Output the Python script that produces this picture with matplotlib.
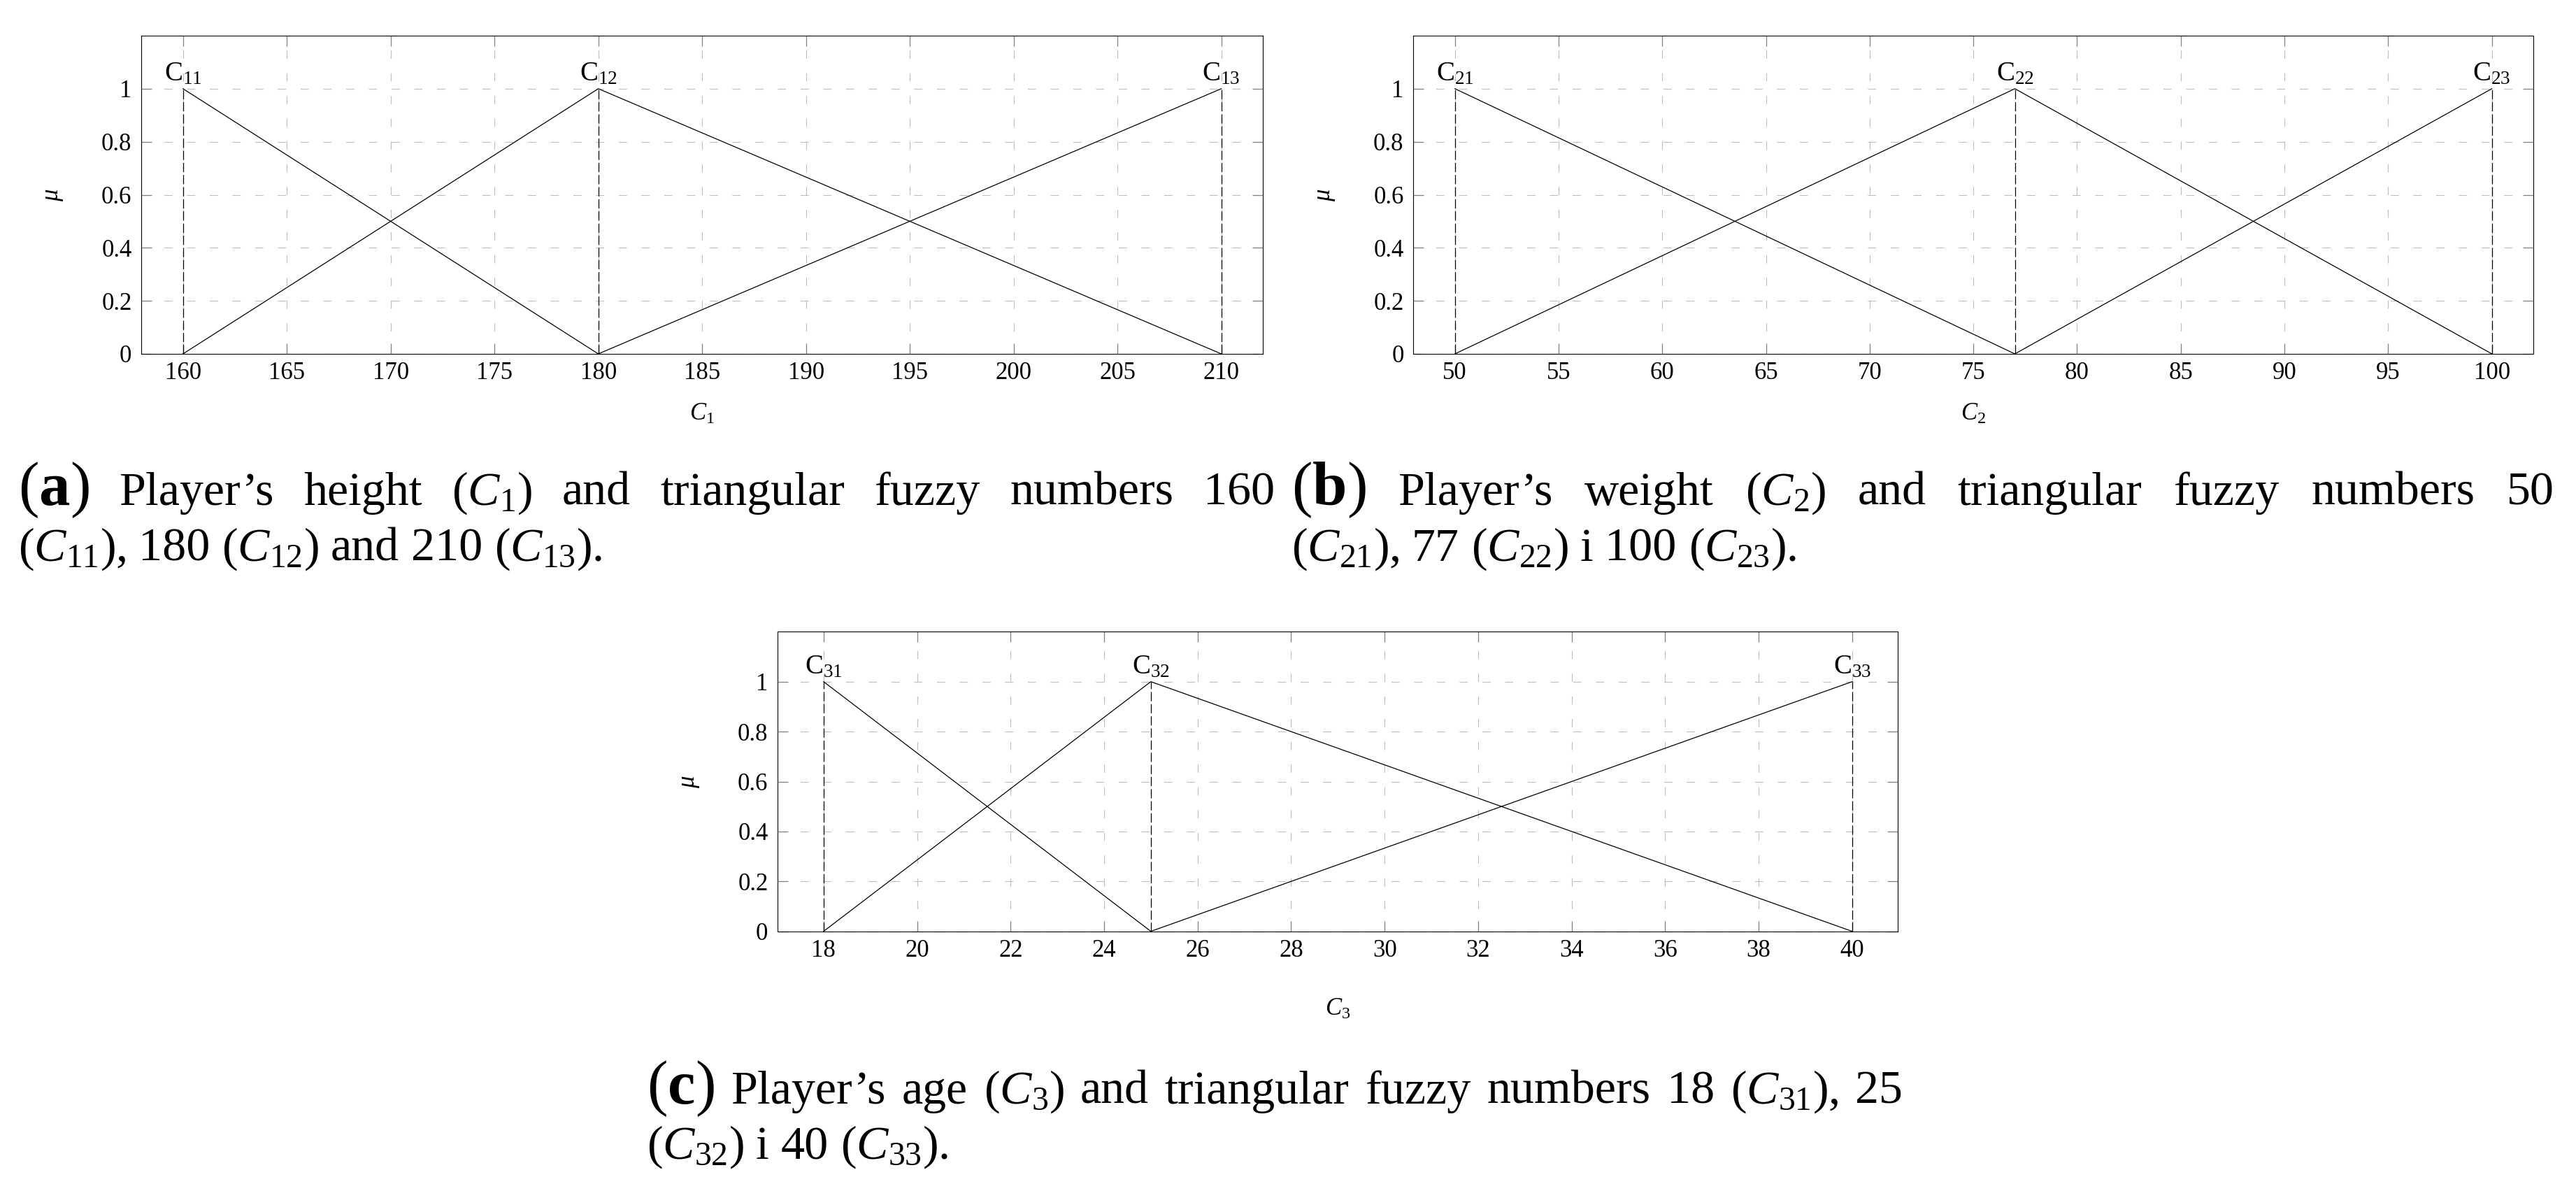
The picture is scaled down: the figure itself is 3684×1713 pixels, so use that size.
import matplotlib
matplotlib.use("Agg")
import matplotlib.pyplot as plt

plt.rcParams['font.family'] = ['Liberation Serif', 'DejaVu Serif']
plt.rcParams['mathtext.fontset'] = 'custom'
plt.rcParams['mathtext.rm'] = 'Liberation Serif'
plt.rcParams['mathtext.it'] = 'Liberation Serif:italic'
plt.rcParams['mathtext.bf'] = 'Liberation Serif:bold'
plt.rcParams['lines.scale_dashes'] = False

# ---------------- data ----------------
height_points = [160, 180, 210]
height_labels = [r'$\mathrm{C}_{11}$', r'$\mathrm{C}_{12}$', r'$\mathrm{C}_{13}$']
height_xticks = [160, 165, 170, 175, 180, 185, 190, 195, 200, 205, 210]
height_xlim = [158, 212]

weight_points = [50, 77, 100]
weight_labels = [r'$\mathrm{C}_{21}$', r'$\mathrm{C}_{22}$', r'$\mathrm{C}_{23}$']
weight_xticks = [50, 55, 60, 65, 70, 75, 80, 85, 90, 95, 100]
weight_xlim = [48, 102]

age_points = [18, 25, 40]
age_labels = [r'$\mathrm{C}_{31}$', r'$\mathrm{C}_{32}$', r'$\mathrm{C}_{33}$']
age_xticks = [18, 20, 22, 24, 26, 28, 30, 32, 34, 36, 38, 40]
age_xlim = [17.02, 40.98]

mu_low = [1, 0]        # first fuzzy number: 1 at a, 0 at b
mu_mid = [0, 1, 0]     # second fuzzy number: 0 at a, 1 at b, 0 at c
mu_high = [0, 1]       # third fuzzy number: 0 at b, 1 at c
mu_peak = [0, 1]       # dashed vertical markers
mu_ticks = [0, 0.2, 0.4, 0.6, 0.8, 1]
mu_tick_labels = ['0', '0.2', '0.4', '0.6', '0.8', '1']
mu_lim = [0, 1.2]

caption_a = [
    [(r'($\mathbf{a}$)', 64), "Player’s", 'height', r'($C_1$)', 'and', 'triangular', 'fuzzy', 'numbers', '160'],
    [r'($C_{11}$),', '180', r'($C_{12}$)', 'and', '210', r'($C_{13}$).'],
]
caption_b = [
    [(r'($\mathbf{b}$)', 64), "Player’s", 'weight', r'($C_2$)', 'and', 'triangular', 'fuzzy', 'numbers', '50'],
    [r'($C_{21}$),', '77', r'($C_{22}$)', 'i', '100', r'($C_{23}$).'],
]
caption_c = [
    [(r'($\mathbf{c}$)', 64), "Player’s", 'age', r'($C_3$)', 'and', 'triangular', 'fuzzy', 'numbers', '18', r'($C_{31}$),', '25'],
    [r'($C_{32}$)', 'i', '40', r'($C_{33}$).'],
]

# ---------------- layout ----------------
W, H = 3684, 1713
fig = plt.figure(figsize=(W / 100, H / 100), dpi=100)
fig.patch.set_facecolor('white')

LINE = '#000000'
GRID = '#bdbdbd'
TICK = '#808080'


def draw_panel(rect_px, points, labels, xticks, xlim, xlabel, xlabel_off):
    l, r, t, b = rect_px
    ax = fig.add_axes([l / W, 1 - b / H, (r - l) / W, (b - t) / H])
    a, m, c = points
    ax.plot([a, m], mu_low, color=LINE, lw=0.9, zorder=3)
    ax.plot([a, m, c], mu_mid, color=LINE, lw=0.9, zorder=3)
    ax.plot([m, c], mu_high, color=LINE, lw=0.9, zorder=3)
    for p, lab in zip(points, labels):
        ax.plot([p, p], mu_peak, color=LINE, lw=0.9, linestyle=(0, (9.5, 3.0)), zorder=3)
        ax.annotate(lab, xy=(p, 1), xytext=(0, 8.5), textcoords='offset points',
                    ha='center', va='baseline', fontsize=28)
    ax.set_xlim(xlim)
    ax.set_ylim(mu_lim)
    ax.set_xticks(xticks)
    ax.set_yticks(mu_ticks)
    ax.set_yticklabels(mu_tick_labels)
    ax.set_axisbelow(True)
    ax.grid(True, color=GRID, lw=0.8, linestyle=(0, (8.4, 15.0)))
    ax.tick_params(direction='in', length=10.8, width=0.9, color=TICK,
                   top=True, right=True, labelsize=25, labelcolor='black')
    ax.tick_params(axis='x', pad=8)
    ax.tick_params(axis='y', pad=10)
    for s in ax.spines.values():
        s.set_color('black')
        s.set_linewidth(0.8)
    ax.set_xlabel(xlabel, fontsize=25)
    ax.set_ylabel(r'$\mu$', fontsize=25)
    ax.xaxis.set_label_coords(0.5, -xlabel_off / (b - t))
    ax.xaxis.label.set_va('center')
    ax.yaxis.set_label_coords(-126 / (r - l), 0.5)
    ax.yaxis.label.set_va('center')
    return ax


draw_panel((202.3, 1806, 51, 506), height_points, height_labels, height_xticks,
           height_xlim, r'$C_1$', 86)
draw_panel((2021.4, 3623, 51, 506), weight_points, weight_labels, weight_xticks,
           weight_xlim, r'$C_2$', 86)
draw_panel((1112.3, 2714.3, 903.3, 1331.7), age_points, age_labels, age_xticks,
           age_xlim, r'$C_3$', 112)

CAP_FS = 49
renderer = fig.canvas.get_renderer()


def draw_caption(lines, x0, width, baselines):
    for li, (words, yb) in enumerate(zip(lines, baselines)):
        arts = []
        for w in words:
            if isinstance(w, tuple):
                s, fs = w
            else:
                s, fs = w, CAP_FS
            arts.append(fig.text(0, 1 - yb / H, s, fontsize=fs, ha='left', va='baseline'))
        widths = [t.get_window_extent(renderer).width for t in arts]
        if li < len(lines) - 1 and len(arts) > 1:
            gap = (width - sum(widths)) / (len(arts) - 1)
        else:
            gap = 0.25 * CAP_FS * 100 / 72
        x = x0
        for t, wd in zip(arts, widths):
            t.set_x(x / W)
            x += wd + gap


draw_caption(caption_a, 26, 1797, [722, 802])
draw_caption(caption_b, 1847, 1806, [722, 802])
draw_caption(caption_c, 925, 1796, [1578, 1657])

fig.savefig('out.png', dpi=100)
